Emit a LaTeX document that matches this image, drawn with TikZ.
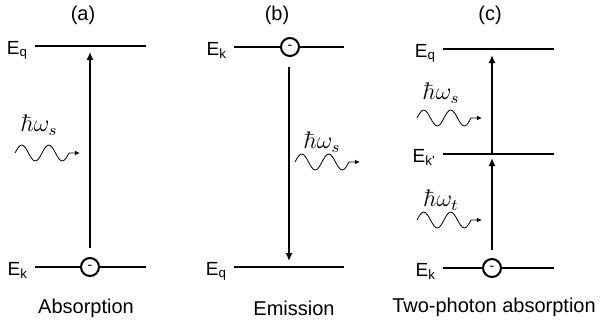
\documentclass[tikz,border=0pt]{standalone}
\usepackage[no-math]{fontspec}
\setmainfont{Liberation Sans}
\usetikzlibrary{arrows.meta,positioning}

\begin{document}
\begin{tikzpicture}[
  x=0.5pt, y=-0.5pt,
  level/.style={line width=1pt},
  trans/.style={line width=1pt, -{Latex[length=4pt, width=3.6pt]}, shorten >=3pt},
  elec/.style={draw, circle, line width=1pt, minimum size=9pt, inner sep=0pt, fill=white, font=\scriptsize},
  photon/.style={line width=0.4pt, -{Latex[length=2.6pt, width=2.4pt]}},
  wiggle/.style={insert path={sin ++(6.75,-8) cos ++(6.75,8) sin ++(6.75,8) cos ++(6.75,-8)
    sin ++(6.75,-8) cos ++(6.75,8) sin ++(6.75,8) cos ++(6.75,-8)}},
  elab/.style={anchor=base east, font=\fontsize{9.5}{11}\selectfont},
  title/.style={font=\normalsize},
  hw/.style={font=\large}
]
\useasboundingbox (0,0) rectangle (603,328);

% (a) absorption
\node[title] (ta) at (83,15) {(a)};
\coordinate (qa-l) at (35,46);  \coordinate (qa-r) at (146,46);
\coordinate (ka-l) at (35,267); \coordinate (ka-r) at (146,267);
\draw[level] (qa-l) -- (qa-r);
\draw[level] (ka-l) -- (ka-r);
\node[elab] (qa-lab) at ([yshift=-4pt]qa-l) {E\textsubscript{q}};
\node[elab] (ka-lab) at ([yshift=-4pt]ka-l) {E\textsubscript{k}};
\node[elec] (ea) at (90,267) {-};
\coordinate (qa-m) at (90,46);
\draw[trans, shorten <=4.5pt] (ea) -- (qa-m);
\coordinate (wa-s) at (15,153); \coordinate (wa-e) at (80,153);
\draw[photon] (wa-s) [wiggle] -- (wa-e);
\node[hw] (hwa) at (39,125) {$\hbar\omega_s$};
\node (capa) at (86,308) {Absorption};

% (b) emission
\node[title] (tb) at (277,15) {(b)};
\coordinate (kb-l) at (234,47);  \coordinate (kb-r) at (344,47);
\coordinate (qb-l) at (234,267); \coordinate (qb-r) at (344,267);
\draw[level] (kb-l) -- (kb-r);
\draw[level] (qb-l) -- (qb-r);
\node[elab] (kb-lab) at ([yshift=-4pt]kb-l) {E\textsubscript{k}};
\node[elab] (qb-lab) at ([yshift=-4pt]qb-l) {E\textsubscript{q}};
\node[elec] (eb) at (290,47) {-};
\coordinate (qb-m) at (289,267);
\draw[trans, shorten <=5pt] (eb.south -| qb-m) -- (qb-m);
\coordinate (wb-s) at (295,162); \coordinate (wb-e) at (360,162);
\draw[photon] (wb-s) [wiggle] -- (wb-e);
\node[hw] (hwb) at (322,142) {$\hbar\omega_s$};
\node (capb) at (294,308) {Emission};

% (c) two-photon absorption
\node[title] (tc) at (490,15) {(c)};
\coordinate (qc-l) at (443,49);  \coordinate (qc-r) at (554,49);
\coordinate (mc-l) at (443,154); \coordinate (mc-r) at (554,154);
\coordinate (kc-l) at (443,268); \coordinate (kc-r) at (554,268);
\draw[level] (qc-l) -- (qc-r);
\draw[level] (mc-l) -- (mc-r);
\draw[level] (kc-l) -- (kc-r);
\node[elab] (qc-lab) at ([yshift=-4pt]qc-l) {E\textsubscript{q}};
\node[elab] (mc-lab) at ([yshift=-4pt]mc-l) {E\textsubscript{k'}};
\node[elab] (kc-lab) at ([yshift=-4pt]kc-l) {E\textsubscript{k}};
\node[elec] (ec) at (492,268) {-};
\coordinate (mc-m) at (492,154);
\coordinate (qc-m) at (492,49);
\draw[trans, shorten <=4pt, shorten >=2pt] (ec) -- (mc-m);
\draw[trans] (mc-m) -- (qc-m);
\coordinate (wc-s) at (417,118); \coordinate (wc-e) at (482,118);
\draw[photon] (wc-s) [wiggle] -- (wc-e);
\node[hw] (hwc) at (441,93) {$\hbar\omega_s$};
\coordinate (wd-s) at (417,220); \coordinate (wd-e) at (482,220);
\draw[photon] (wd-s) [wiggle] -- (wd-e);
\node[hw] (hwd) at (441,200) {$\hbar\omega_t$};
\node (capc) at (494,307) {Two-photon absorption};
\end{tikzpicture}
\end{document}
